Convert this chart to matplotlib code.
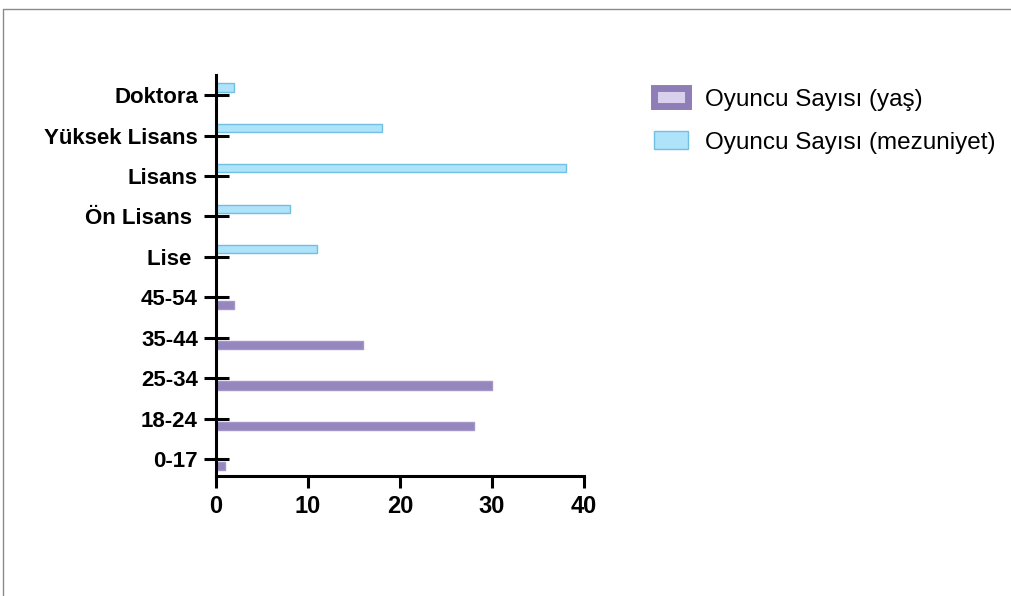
import numpy as np
import matplotlib
matplotlib.use("Agg")
import matplotlib.pyplot as plt
from matplotlib.patches import Patch
from matplotlib.lines import Line2D

plt.rcParams['font.family'] = ['Liberation Sans', 'DejaVu Sans']

# kategoriler (alttan uste)
kategoriler = ["0-17", "18-24", "25-34", "35-44", "45-54",
               "Lise ", "Ön Lisans ", "Lisans", "Yüksek Lisans", "Doktora"]
yas = [1, 28, 30, 16, 2, 0, 0, 0, 0, 0]
mezuniyet = [0, 0, 0, 0, 0, 11, 8, 38, 18, 2]
x_ticks = [0, 10, 20, 30, 40]

mor_kenar = "#8f7db8"
mor_ic = "#d9d0ee"
mavi = "#aee3fa"
mavi_kenar = "#72bfe4"

fig = plt.figure(figsize=(10.11, 5.96), dpi=100)
ax = fig.add_axes([0.2136, 0.2013, 0.3641, 0.6729])

y = np.arange(len(kategoriler))
h = 0.2
ax.barh(y - 0.18, yas, height=h, color="#9586be", edgecolor="#a497c8", linewidth=1)
ax.barh(y + 0.19, mezuniyet, height=h, color=mavi, edgecolor=mavi_kenar, linewidth=1)

ax.set_xlim(0, 40)
ax.set_ylim(-0.42, 9.5)
ax.set_xticks(x_ticks)
ax.set_yticks(y)
ax.set_yticklabels(kategoriler)

for s in ["top", "right"]:
    ax.spines[s].set_visible(False)
for s in ["left", "bottom"]:
    ax.spines[s].set_linewidth(2.2)

ax.tick_params(axis="y", direction="inout", length=18, width=2.2, pad=4, labelsize=16)
ax.tick_params(axis="x", direction="out", length=8.6, width=2.2, pad=5, labelsize=17)
for t in ax.get_xticklabels() + ax.get_yticklabels():
    t.set_fontweight("bold")

tutamaclar = [Patch(facecolor=mor_ic, edgecolor=mor_kenar, linewidth=5),
              Patch(facecolor=mavi, edgecolor=mavi_kenar, linewidth=1)]
fig.legend(tutamaclar, ["Oyuncu Sayısı (yaş)", "Oyuncu Sayısı (mezuniyet)"],
           loc="upper left", bbox_to_anchor=(0.647, 0.852), frameon=False,
           fontsize=17.5, handlelength=1.4, handleheight=0.75, handletextpad=0.7,
           labelspacing=0.85, borderpad=0, borderaxespad=0)

# gri cerceve
fig.add_artist(Line2D([3 / 1011, 3 / 1011, 1], [0, 1 - 8.5 / 596, 1 - 8.5 / 596],
                      transform=fig.transFigure, color="#8a8a8a", linewidth=1))

fig.savefig("out.png", dpi=100, facecolor="white")
